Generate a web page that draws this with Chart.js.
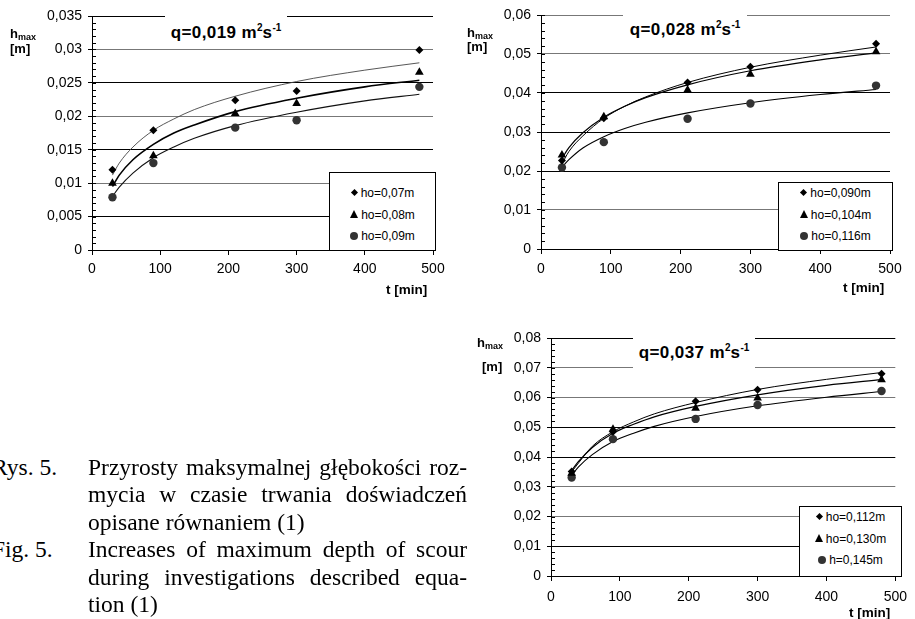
<!DOCTYPE html>
<html lang="pl">
<head>
<meta charset="utf-8">
<title>Przyrosty maksymalnej głębokości rozmycia</title>
<script src="https://cdn.jsdelivr.net/npm/chart.js@4.4.1/dist/chart.umd.min.js"></script>
<style>
    body { margin: 0; width: 915px; height: 619px; overflow: hidden; position: relative; background: #fff; color: #000; font-family: "Liberation Sans", Arial, sans-serif; }
    canvas { position: absolute; }
    .tbox { position: absolute; background: #fff; }
    .title { position: absolute; font-weight: bold; font-size: 17px; line-height: 17px; letter-spacing: 0.4px; white-space: nowrap; transform: translateX(-50%); }
    .title .sp { font-size: 10px; position: relative; top: -7px; line-height: 0; letter-spacing: 0; }
    .ylab { position: absolute; font-weight: bold; font-size: 13px; line-height: 13px; white-space: nowrap; }
    .ylab sub { font-size: 9px; vertical-align: -2px; line-height: 0; }
    .xlab { position: absolute; font-weight: bold; font-size: 13.5px; line-height: 14px; white-space: nowrap; }
    .legend { position: absolute; box-sizing: border-box; border: 1px solid #000; background: #fff; font-size: 12px; text-align: center; }
    .legend .row { height: 21.5px; line-height: 21.5px; white-space: nowrap; }
    .mk { display: inline-block; vertical-align: middle; margin-right: 3px; position: relative; top: -1px; }
    .mk-d { width: 5px; height: 5px; background: #000; transform: rotate(45deg); margin-left: 1px; margin-right: 4px; }
    .mk-t { width: 0; height: 0; border-left: 4.5px solid transparent; border-right: 4.5px solid transparent; border-bottom: 8px solid #000; }
    .mk-c { width: 8px; height: 8px; border-radius: 50%; background: #333; }
    .caption { position: absolute; left: 0; top: 454px; font-family: "Liberation Serif", "Times New Roman", serif; font-size: 23.5px; line-height: 27.4px; }
    .caption .line { position: relative; height: 27.4px; }
    .caption .lab { position: absolute; left: -8px; white-space: nowrap; }
    .caption .txt { position: absolute; left: 88px; width: 379px; white-space: nowrap; }
    .caption .j { text-align: justify; text-align-last: justify; white-space: normal; }
</style>
</head>
<body>
<canvas id="chart1" width="460" height="300" style="left:0;top:0"></canvas>
<canvas id="chart2" width="455" height="300" style="left:460px;top:0"></canvas>
<canvas id="chart3" width="455" height="299" style="left:460px;top:320px"></canvas>

<div class="tbox" style="left:165px;top:0;width:122px;height:42px"></div>
<div class="title" style="left:226px;top:24px">q=0,019 m<span class="sp">2</span>s<span class="sp">-1</span></div>
<div class="tbox" style="left:623px;top:0;width:124px;height:45px"></div>
<div class="title" style="left:685px;top:21px">q=0,028 m<span class="sp">2</span>s<span class="sp">-1</span></div>
<div class="tbox" style="left:633px;top:328px;width:122px;height:57px"></div>
<div class="title" style="left:694px;top:344px">q=0,037 m<span class="sp">2</span>s<span class="sp">-1</span></div>

<div class="ylab" style="left:10px;top:27px">h<sub>max</sub></div>
<div class="ylab" style="left:10px;top:42px">[m]</div>
<div class="ylab" style="left:467px;top:26px">h<sub>max</sub></div>
<div class="ylab" style="left:467px;top:40px">[m]</div>
<div class="ylab" style="left:477px;top:336px">h<sub>max</sub></div>
<div class="ylab" style="left:482px;top:360px">[m]</div>

<div class="xlab" style="left:386px;top:283px">t [min]</div>
<div class="xlab" style="left:843px;top:281px">t [min]</div>
<div class="xlab" style="left:849px;top:606px">t [min]</div>

<div class="legend" id="legend1" style="left:329px;top:172px;width:107px;height:79px;padding-top:10px"></div>
<div class="legend" id="legend2" style="left:778px;top:182px;width:115px;height:69px"></div>
<div class="legend" id="legend3" style="left:799px;top:506px;width:103px;height:71px"></div>

<div class="caption">
    <div class="line"><span class="lab">Rys. 5.</span><div class="txt j">Przyrosty maksymalnej głębokości roz-</div></div>
    <div class="line"><div class="txt j">mycia w czasie trwania doświadczeń</div></div>
    <div class="line"><div class="txt">opisane równaniem (1)</div></div>
    <div class="line"><span class="lab">Fig. 5.</span><div class="txt j">Increases of maximum depth of scour</div></div>
    <div class="line"><div class="txt j">during investigations described equa-</div></div>
    <div class="line"><div class="txt">tion (1)</div></div>
</div>

<script>
const times = [30, 90, 210, 300, 480];
const fitTimes = [30, 40, 60, 90, 120, 150, 210, 300, 400, 480];

// q = 0,019 m2/s
const q1Labels = ['ho=0,07m', 'ho=0,08m', 'ho=0,09m'];
const q1Ho007 = [0.012, 0.0179, 0.0224, 0.0238, 0.0299];
const q1Ho008 = [0.010, 0.0141, 0.0204, 0.0219, 0.0266];
const q1Ho009 = [0.0079, 0.013, 0.0183, 0.0194, 0.0244];
const q1Fit007 = [0.0112, 0.0130, 0.0154, 0.0179, 0.0196, 0.0210, 0.0230, 0.0252, 0.0269, 0.0280];
const q1Fit008 = [0.0095, 0.0112, 0.0135, 0.0158, 0.0175, 0.0187, 0.0207, 0.0227, 0.0244, 0.0254];
const q1Fit009 = [0.0080, 0.0094, 0.0115, 0.0138, 0.0154, 0.0167, 0.0186, 0.0206, 0.0223, 0.0233];

// q = 0,028 m2/s
const q2Labels = ['ho=0,090m', 'ho=0,104m', 'ho=0,116m'];
const q2Ho090 = [0.0227, 0.0335, 0.0427, 0.0467, 0.0526];
const q2Ho104 = [0.0241, 0.0339, 0.0408, 0.0448, 0.0506];
const q2Ho116 = [0.0209, 0.0274, 0.0334, 0.0373, 0.0419];
const q2Fit090 = [0.0218, 0.0250, 0.0290, 0.0335, 0.0366, 0.0390, 0.0427, 0.0466, 0.0497, 0.0518];
const q2Fit104 = [0.0232, 0.0260, 0.0298, 0.0338, 0.0366, 0.0388, 0.0421, 0.0457, 0.0485, 0.0503];
const q2Fit116 = [0.0210, 0.0229, 0.0259, 0.0288, 0.0309, 0.0325, 0.0349, 0.0375, 0.0396, 0.0409];

// q = 0,037 m2/s
const q3Labels = ['ho=0,112m', 'ho=0,130m', 'h=0,145m'];
const q3Ho112 = [0.0351, 0.0485, 0.0587, 0.0626, 0.0680];
const q3Ho130 = [0.0345, 0.0493, 0.0564, 0.0598, 0.0660];
const q3Ho145 = [0.0331, 0.0460, 0.0528, 0.0575, 0.0622];
const q3Fit112 = [0.0350, 0.0380, 0.0436, 0.0485, 0.0518, 0.0545, 0.0583, 0.0627, 0.0661, 0.0684];
const q3Fit130 = [0.0355, 0.0385, 0.0432, 0.0480, 0.0510, 0.0535, 0.0570, 0.0609, 0.0641, 0.0660];
const q3Fit145 = [0.0338, 0.0367, 0.0408, 0.0452, 0.0480, 0.0503, 0.0536, 0.0572, 0.0601, 0.0620];

const minorTicks = {
    id: 'minorTicks',
    afterDraw(chart, args, opts) {
        const y = chart.scales.y;
        const ctx = chart.ctx;
        const n = Math.round(y.max / opts.step);
        ctx.save();
        ctx.strokeStyle = '#000';
        ctx.lineWidth = 1;
        for (let i = 0; i <= n; i++) {
            const py = Math.round(y.getPixelForValue(i * opts.step)) + 0.5;
            ctx.beginPath();
            ctx.moveTo(y.right, py);
            ctx.lineTo(y.right + 4, py);
            ctx.stroke();
        }
        ctx.restore();
    }
};

function pairs(xs, ys) {
    return xs.map((x, i) => ({ x: x, y: ys[i] }));
}

function createScourChart(canvasId, cfg) {
    const styles = [
        { pointStyle: 'rectRot', pointRadius: 4, color: '#000' },
        { pointStyle: 'triangle', pointRadius: 5, color: '#000' },
        { pointStyle: 'circle', pointRadius: 4.2, color: '#333' }
    ];
    const datasets = [];
    cfg.points.forEach((vals, i) => {
        datasets.push({
            label: cfg.labels[i],
            data: pairs(times, vals),
            showLine: false,
            pointStyle: styles[i].pointStyle,
            pointRadius: styles[i].pointRadius,
            pointBackgroundColor: styles[i].color,
            pointBorderColor: styles[i].color,
            pointBorderWidth: 0
        });
    });
    cfg.fits.forEach((vals, i) => {
        datasets.push({
            label: cfg.labels[i] + ' fit',
            data: pairs(fitTimes, vals),
            showLine: true,
            pointRadius: 0,
            borderColor: cfg.fitColors[i],
            borderWidth: cfg.fitWidths[i],
            cubicInterpolationMode: 'monotone'
        });
    });

    const tickFont = { family: '"Liberation Sans", Arial, sans-serif', size: 14 };
    new Chart(document.getElementById(canvasId).getContext('2d'), {
        type: 'scatter',
        data: { datasets: datasets },
        options: {
            responsive: false,
            animation: false,
            layout: { padding: { top: cfg.padTop, right: cfg.padRight, left: 0, bottom: 0 } },
            plugins: {
                legend: { display: false },
                tooltip: { enabled: false },
                minorTicks: { step: cfg.minorStep }
            },
            scales: {
                x: {
                    type: 'linear',
                    min: 0,
                    max: 500,
                    ticks: { stepSize: 100, color: '#000', font: tickFont, padding: cfg.xPad, maxRotation: 0 },
                    grid: { drawOnChartArea: false, tickLength: 5, color: '#000' },
                    border: { color: '#000', width: 1 },
                    afterFit(s) { s.height = cfg.xHeight; }
                },
                y: {
                    min: 0,
                    max: cfg.yMax,
                    ticks: {
                        stepSize: cfg.yStep,
                        color: '#000',
                        font: tickFont,
                        padding: 6,
                        callback: (v) => String(+v.toFixed(4)).replace('.', ',')
                    },
                    grid: {
                        color: (c) => cfg.gridColors[c.index] || '#000',
                        tickColor: '#000',
                        tickLength: 4,
                        lineWidth: 1
                    },
                    border: { color: '#000', width: 1 },
                    afterFit(s) { s.width = cfg.yWidth; }
                }
            }
        },
        plugins: [minorTicks]
    });
}

function buildLegend(id, labels) {
    const box = document.getElementById(id);
    const kinds = ['d', 't', 'c'];
    labels.forEach((text, i) => {
        const row = document.createElement('div');
        row.className = 'row';
        row.innerHTML = '<span class="mk mk-' + kinds[i] + '"></span>' + text;
        box.appendChild(row);
    });
}

createScourChart('chart1', {
    labels: q1Labels,
    points: [q1Ho007, q1Ho008, q1Ho009],
    fits: [q1Fit007, q1Fit008, q1Fit009],
    fitColors: ['#444', '#000', '#111'],
    fitWidths: [0.9, 1.6, 1.1],
    yMax: 0.035, yStep: 0.005, minorStep: 0.001,
    gridColors: ['#000', '#000', '#777', '#000', '#777', '#000', '#777', '#000'],
    yWidth: 92, xHeight: 50, padTop: 16, padRight: 27, xPad: 6
});

createScourChart('chart2', {
    labels: q2Labels,
    points: [q2Ho090, q2Ho104, q2Ho116],
    fits: [q2Fit090, q2Fit104, q2Fit116],
    fitColors: ['#000', '#000', '#000'],
    fitWidths: [1, 1.2, 1.1],
    yMax: 0.06, yStep: 0.01, minorStep: 0.002,
    gridColors: ['#000', '#777', '#000', '#000', '#000', '#777', '#777'],
    yWidth: 81, xHeight: 51, padTop: 15, padRight: 25, xPad: 7
});

createScourChart('chart3', {
    labels: q3Labels,
    points: [q3Ho112, q3Ho130, q3Ho145],
    fits: [q3Fit112, q3Fit130, q3Fit145],
    fitColors: ['#000', '#000', '#000'],
    fitWidths: [1, 1.2, 1.1],
    yMax: 0.08, yStep: 0.01, minorStep: 0.002,
    gridColors: ['#000', '#000', '#777', '#777', '#000', '#000', '#777', '#777', '#000'],
    yWidth: 91, xHeight: 43, padTop: 18, padRight: 13, xPad: 8
});

buildLegend('legend1', q1Labels);
buildLegend('legend2', q2Labels);
buildLegend('legend3', q3Labels);
</script>
</body>
</html>
